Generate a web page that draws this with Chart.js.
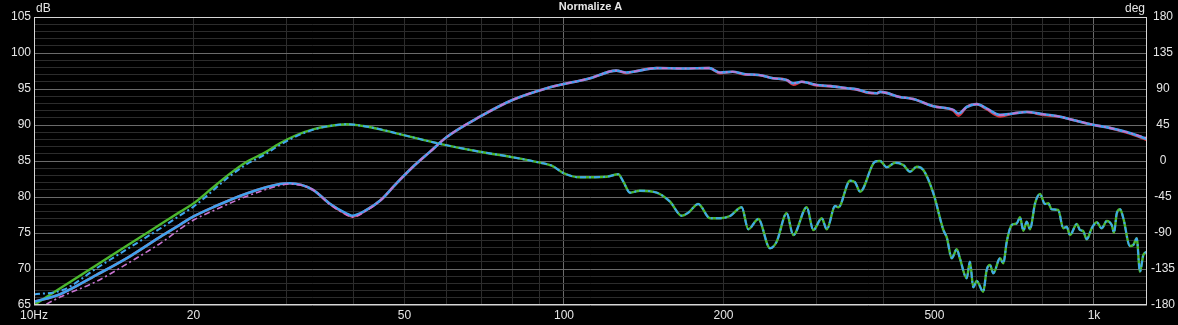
<!DOCTYPE html>
<html>
<head>
<meta charset="utf-8">
<script src="https://cdn.jsdelivr.net/npm/chart.js@4.4.1/dist/chart.umd.min.js"></script>
<style>
  html, body { margin: 0; padding: 0; background: #000; }
  canvas { display: block; }
</style>
</head>
<body>
<canvas id="chart" width="1178" height="325"></canvas>
<script>
// Texts
const TITLE = 'Normalize A';
const LEFT_UNIT = 'dB';
const RIGHT_UNIT = 'deg';

// X axis (log, Hz)
const X_TICKS = [10, 20, 30, 40, 50, 60, 70, 80, 90, 100, 200, 300, 400, 500, 600, 700, 800, 900, 1000];
const X_LABELS = { 10: '10Hz', 20: '20', 50: '50', 100: '100', 200: '200', 500: '500', 1000: '1k' };
const X_MAJOR = [10, 100, 1000];

// Magnitude (dB, left axis)
const MAG_FREQ = [
  10, 11.2, 13.1, 15.2, 17.5, 18.9, 20, 21.8, 25.2, 29.1,
  30.4, 33.6, 36.1, 38.9, 39.8, 42.4, 45, 48.3, 51.9, 55.9,
  60, 69.4, 80.1, 92.8, 100, 107, 112, 125.5, 131, 135,
  149.5, 168, 188, 197, 208, 220, 233, 248, 263, 271,
  281, 300, 318, 342, 357, 373, 389, 395, 430, 456,
  498, 543, 555, 575, 601, 627, 665, 704, 747, 802,
  863, 901, 1000, 1070, 1169, 1259
];
const MAG_BLUE = [
  65.45, 66.5, 69.15, 71.8, 74.7, 76.2, 77.3, 78.6, 80.5, 81.8,
  81.9, 81.0, 79.1, 77.7, 77.4, 78.2, 79.5, 81.9, 84.2, 86.3,
  88.3, 91.15, 93.5, 95.1, 95.7, 96.15, 96.5, 97.55, 97.3, 97.4,
  97.9, 97.85, 97.9, 97.3, 97.4, 97.05, 96.95, 96.5, 96.25, 95.8,
  96.0, 95.55, 95.4, 95.1, 94.95, 94.55, 94.4, 94.6, 93.9, 93.6,
  92.6, 92.1, 91.6, 92.5, 92.9, 92.3, 91.4, 91.6, 91.8, 91.5,
  91.15, 90.8, 90.0, 89.6, 88.9, 88.05
];
const MAG_RED = [
  65.45, 66.5, 69.15, 71.8, 74.7, 76.2, 77.3, 78.6, 80.5, 81.8,
  81.9, 81.0, 79.1, 77.6, 77.3, 78.2, 79.5, 81.9, 84.2, 86.3,
  88.3, 91.15, 93.5, 95.1, 95.7, 96.15, 96.5, 97.55, 97.2, 97.4,
  97.9, 97.85, 97.9, 97.2, 97.4, 97.0, 96.95, 96.5, 96.25, 95.6,
  96.0, 95.5, 95.4, 95.1, 94.9, 94.5, 94.4, 94.6, 93.9, 93.6,
  92.6, 92.0, 91.3, 92.5, 92.9, 92.2, 91.2, 91.6, 91.8, 91.4,
  91.15, 90.8, 90.0, 89.6, 88.8, 87.9
];
const MAG_PINK = [
  64.2, 66.1, 68.25, 71.0, 73.8, 75.6, 76.8, 78.1, 80.1, 81.6,
  81.8, 81.0, 79.0, 77.5, 77.2, 78.1, 79.5, 81.9, 84.2, 86.3,
  88.3, 91.15, 93.5, 95.1, 95.7, 96.15, 96.5, 97.55, 97.3, 97.4,
  97.9, 97.85, 97.9, 97.3, 97.4, 97.05, 96.95, 96.5, 96.25, 95.8,
  96.0, 95.55, 95.4, 95.1, 94.95, 94.55, 94.4, 94.6, 93.9, 93.6,
  92.6, 92.1, 91.6, 92.5, 92.9, 92.3, 91.4, 91.6, 91.8, 91.5,
  91.15, 90.8, 90.0, 89.6, 88.9, 88.2
];

// Phase (deg, right axis)
const PHASE_FREQ = [
  10, 11.36, 13.13, 15.17, 17.53, 18.86, 20, 21.5, 23.2, 25.2,
  27.1, 29.1, 31.3, 33.6, 36.1, 38.9, 41.8, 45, 51.9, 58.3,
  69.4, 80.1, 90.1, 95, 99.7, 107.2, 120.4, 126.6, 129.4, 133.2,
  139.1, 149.6, 158.5, 166.8, 171.6, 179.2, 188.6, 197, 205.7, 216.4,
  222.7, 232.6, 244.7, 251.9, 263.1, 270.8, 287.1, 295.4, 306.4, 313.2,
  324.7, 329.4, 346.5, 354.2, 361.9, 386.3, 394.8, 406.5, 421.4, 436.8,
  449.7, 463, 476.5, 497.7, 519.8, 527.5, 539, 550.8, 558.6, 575.2,
  583.4, 591.9, 600.7, 618.1, 627.3, 636.5, 645.7, 664.7, 674.5, 684.5,
  699.5, 715, 725.3, 735.7, 746.6, 757.4, 774.1, 791, 808, 820,
  832, 856, 875, 888, 901, 928, 941, 954, 969, 990,
  1012, 1034, 1057, 1080, 1091, 1104, 1120, 1136, 1169, 1186,
  1204, 1221, 1239, 1257
];
const PHASE_GREEN = [
  -180, -156.6, -130, -103.4, -77, -63.6, -53, -36, -18, -1,
  9.6, 22.1, 32.5, 39.6, 43.75, 45.9, 43.75, 39.6, 29.5, 21.5,
  11.6, 4.6, -2.1, -6, -15, -20.4, -19.6, -16.6, -25.9, -39.6,
  -37.1, -39.6, -50.9, -68.4, -64.6, -53.75, -71.6, -71.6, -68.75, -57.9,
  -85.4, -72.5, -109.1, -100.9, -65.4, -92.5, -57.9, -86.25, -71.6, -85.4,
  -56.25, -57.9, -24.6, -26.6, -38.4, -0.9, 0, -7.9, -2.1, -5,
  -13.4, -7.1, -11.25, -40.4, -86.25, -95.4, -121.6, -110.4, -122, -146.6,
  -125.9, -157.9, -150, -163.4, -136.25, -130, -140.4, -121.6, -127.9, -100.9,
  -80, -77.9, -70.4, -87.1, -75.9, -85.4, -52.9, -41.25, -53.75, -52.9,
  -60.4, -61.25, -84.1, -82.1, -92.5, -78.75, -86.25, -87.5, -97.9, -84.1,
  -76.6, -84.1, -75, -80, -89.6, -65.4, -60.4, -71.6, -106.25, -105,
  -96.6, -138.4, -117.5, -113.4
];
// dash-dot phase trace differs only below ~35 Hz
const PHASE_BLUE_LOW = [-167, -161, -134, -108, -82, -68, -57, -40, -21, -4, 7, 20, 31, 39];
const PHASE_BLUE = PHASE_BLUE_LOW.concat(PHASE_GREEN.slice(PHASE_BLUE_LOW.length));

const toXY = (xs, ys) => xs.map((x, i) => ({ x: x, y: ys[i] }));

const FONT = '"Liberation Sans", Arial, sans-serif';
const TEXT = '#e6e6e6';
const GRID_DIM = '#2c2c2c';
const GRID_BRIGHT = '#6a6a6a';
const DASH_DOT = [6, 3, 2, 3];

const framePlugin = {
    id: 'frame',
    afterDraw(chart) {
        const { ctx, chartArea: a } = chart;
        ctx.save();
        ctx.strokeStyle = '#d6d6d6';
        ctx.lineWidth = 1;
        ctx.strokeRect(a.left + 0.5, a.top + 0.5, a.right - a.left - 1, a.bottom - a.top - 1);
        ctx.fillStyle = TEXT;
        ctx.textBaseline = 'middle';
        ctx.font = 'bold 11px ' + FONT;
        ctx.textAlign = 'center';
        ctx.fillText(TITLE, (a.left + a.right) / 2, 7);
        ctx.font = '12px ' + FONT;
        ctx.textAlign = 'left';
        ctx.fillText(LEFT_UNIT, a.left + 2, 9);
        ctx.textAlign = 'right';
        ctx.fillText(RIGHT_UNIT, a.right - 2, 9);
        ctx.restore();
    }
};

function line(label, data, color, axis, dash, width) {
    return {
        label: label,
        data: data,
        yAxisID: axis,
        borderColor: color,
        borderWidth: width,
        borderDash: dash,
        pointRadius: 0,
        fill: false,
        cubicInterpolationMode: 'monotone'
    };
}

new Chart(document.getElementById('chart'), {
    type: 'line',
    data: {
        // first dataset is drawn on top
        datasets: [
            line('Mag dash', toXY(MAG_FREQ, MAG_PINK), '#c873d0', 'y', DASH_DOT, 1.6),
            line('Phase dash', toXY(PHASE_FREQ, PHASE_BLUE), '#3fa6ee', 'y2', DASH_DOT, 2),
            line('Mag', toXY(MAG_FREQ, MAG_BLUE), '#3fa2ee', 'y', [], 2.6),
            line('Phase', toXY(PHASE_FREQ, PHASE_GREEN), '#4cb82e', 'y2', [], 2.4),
            line('Mag ref', toXY(MAG_FREQ, MAG_RED), '#e0303a', 'y', [], 2.6)
        ]
    },
    options: {
        responsive: false,
        animation: false,
        events: [],
        layout: { padding: { top: 17, left: 0, right: 0, bottom: 0 } },
        plugins: {
            legend: { display: false },
            tooltip: { enabled: false }
        },
        scales: {
            x: {
                type: 'logarithmic',
                min: 10,
                max: 1259,
                afterBuildTicks: (axis) => { axis.ticks = X_TICKS.map(v => ({ value: v })); },
                afterFit: (axis) => { axis.height = 20; },
                grid: {
                    drawTicks: false,
                    color: (c) => X_MAJOR.includes(c.tick.value) ? GRID_BRIGHT : GRID_DIM
                },
                border: { display: false },
                ticks: {
                    autoSkip: false,
                    maxRotation: 0,
                    padding: 3,
                    color: TEXT,
                    font: { family: FONT, size: 12 },
                    callback: (v) => X_LABELS[v] || ''
                }
            },
            y: {
                position: 'left',
                min: 65,
                max: 105,
                afterFit: (axis) => { axis.width = 34; },
                grid: {
                    drawTicks: false,
                    color: (c) => c.tick.value % 5 === 0 ? GRID_BRIGHT : GRID_DIM
                },
                border: { display: false },
                ticks: {
                    stepSize: 1,
                    autoSkip: false,
                    padding: 3,
                    color: TEXT,
                    font: { family: FONT, size: 12 },
                    callback: (v) => v % 5 === 0 ? v : ''
                }
            },
            y2: {
                position: 'right',
                min: -180,
                max: 180,
                afterFit: (axis) => { axis.width = 31; },
                grid: { display: false, drawTicks: false },
                border: { display: false },
                ticks: {
                    stepSize: 45,
                    autoSkip: false,
                    padding: 4,
                    crossAlign: 'center',
                    color: TEXT,
                    font: { family: FONT, size: 12 }
                }
            }
        }
    },
    plugins: [framePlugin]
});
</script>
</body>
</html>
